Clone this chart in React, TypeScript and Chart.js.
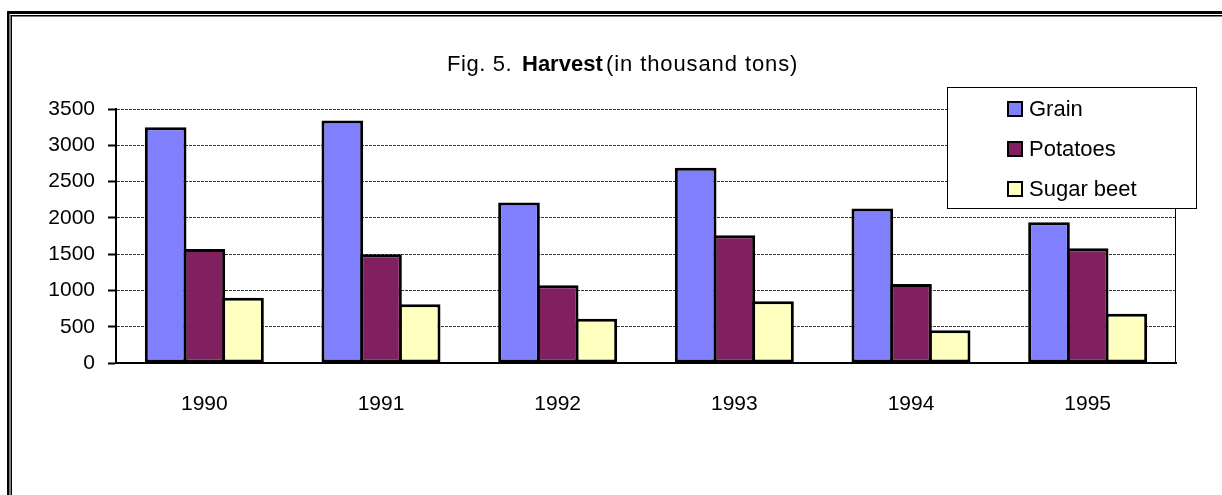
import React, { useEffect, useRef } from "react";
import { Chart, registerables } from "chart.js";

Chart.register(...registerables);

// ---- data ----
const categories = ["1990", "1991", "1992", "1993", "1994", "1995"];
const grain = [3250, 3340, 2210, 2690, 2130, 1940];
const potatoes = [1570, 1500, 1070, 1760, 1090, 1580];
const sugarBeet = [900, 810, 610, 850, 450, 680];
const seriesLabels = ["Grain", "Potatoes", "Sugar beet"];
const seriesColors = ["#8080FF", "#802060", "#FFFFC0"];
const yTickMin = 0;
const yTickMax = 3500;
const yTickStep = 500;
const titlePrefix = "Fig. 5.";
const titleBold = "Harvest";
const titleSuffix = "(in thousand tons)";

const FONT = "'Liberation Sans', Arial, sans-serif";
const W = 1222;
const H = 495;
const BAR_BORDER = 3;

const framePlugin = {
  id: "frame",
  beforeDraw(chart: any) {
    const ctx = chart.ctx;
    ctx.save();
    ctx.fillStyle = "#fff";
    ctx.fillRect(0, 0, W, H);
    ctx.fillStyle = "#000";
    // outer line
    ctx.fillRect(7, 11, W, 3);
    ctx.fillRect(7, 11, 2.5, H);
    // inner line
    ctx.fillRect(10.5, 15, W, 1.5);
    ctx.fillRect(10.5, 15, 1.5, H);
    ctx.restore();
  },
};

const plotBorderPlugin = {
  id: "plotBorder",
  afterDatasetsDraw(chart: any) {
    const { ctx, chartArea } = chart;
    ctx.save();
    ctx.strokeStyle = "#000";
    ctx.lineWidth = 1;
    ctx.beginPath();
    const x = Math.round(chartArea.right) - 0.5;
    ctx.moveTo(x, chartArea.top);
    ctx.lineTo(x, chartArea.bottom);
    ctx.stroke();
    ctx.restore();
  },
};

const titlePlugin = {
  id: "mixedTitle",
  afterDraw(chart: any) {
    const ctx = chart.ctx;
    ctx.save();
    ctx.fillStyle = "#000";
    ctx.textBaseline = "alphabetic";
    ctx.textAlign = "left";
    const y = 71;
    ctx.font = `22px ${FONT}`;
    (ctx as any).letterSpacing = "0.6px";
    ctx.fillText(titlePrefix, 447, y);
    ctx.font = `bold 22px ${FONT}`;
    (ctx as any).letterSpacing = "0px";
    ctx.fillText(titleBold, 522, y);
    ctx.font = `22px ${FONT}`;
    (ctx as any).letterSpacing = "0.9px";
    ctx.fillText(titleSuffix, 606, y);
    (ctx as any).letterSpacing = "0px";
    ctx.restore();
  },
};

const legendPlugin = {
  id: "boxLegend",
  afterDraw(chart: any) {
    const ctx = chart.ctx;
    const bx = 947;
    const by = 87;
    const bw = 249;
    const bh = 121;
    ctx.save();
    ctx.fillStyle = "#fff";
    ctx.fillRect(bx, by, bw, bh);
    ctx.strokeStyle = "#000";
    ctx.lineWidth = 1;
    ctx.strokeRect(bx + 0.5, by + 0.5, bw, bh);
    ctx.font = `22px ${FONT}`;
    ctx.textBaseline = "alphabetic";
    ctx.textAlign = "left";
    chart.data.datasets.forEach((ds: any, i: number) => {
      const baseY = 116 + i * 40;
      const sx = 1008;
      const sy = baseY - 14;
      ctx.fillStyle = ds.backgroundColor;
      ctx.fillRect(sx, sy, 14, 14);
      ctx.strokeStyle = "#000";
      ctx.lineWidth = 2;
      ctx.strokeRect(sx, sy, 14, 14);
      ctx.fillStyle = "#000";
      ctx.fillText(ds.label, 1029, baseY);
    });
    ctx.restore();
  },
};

export default function App() {
  const canvasRef = useRef<HTMLCanvasElement | null>(null);

  useEffect(() => {
    document.body.style.margin = "0";
    const canvas = canvasRef.current;
    if (!canvas) return;
    const values = [grain, potatoes, sugarBeet];
    const chart = new Chart(canvas, {
      type: "bar",
      data: {
        labels: categories,
        datasets: values.map((v, i) => ({
          label: seriesLabels[i],
          data: v,
          backgroundColor: seriesColors[i],
          borderColor: "#000",
          borderWidth: BAR_BORDER,
          borderSkipped: false,
          categoryPercentage: 0.6566,
          barPercentage: 1.0776,
        })),
      },
      options: {
        animation: false,
        responsive: false,
        devicePixelRatio: 1,
        layout: { padding: { left: 0, top: 109, right: 46, bottom: 0 } },
        plugins: {
          legend: { display: false },
          title: { display: false },
          tooltip: { enabled: false },
        },
        scales: {
          x: {
            grid: { display: false },
            border: { display: true, color: "#000", width: 2 },
            ticks: {
              color: "#000",
              font: { family: FONT, size: 21 },
              padding: 21,
              maxRotation: 0,
            },
            afterFit(scale: any) {
              scale.height = H - 363;
            },
          },
          y: {
            min: yTickMin,
            max: yTickMax,
            ticks: {
              stepSize: yTickStep,
              color: "#000",
              font: { family: FONT, size: 21 },
              padding: 13,
              callback: (v: any) => String(v),
            },
            grid: {
              color: "#3a3a3a",
              lineWidth: 1,
              drawTicks: true,
              tickLength: 8,
              tickColor: "#000",
              tickWidth: 2,
              tickBorderDash: [],
            },
            border: { display: true, color: "#000", width: 2, dash: [3, 1] },
            afterFit(scale: any) {
              scale.width = 116;
            },
          },
        },
      },
      plugins: [framePlugin, plotBorderPlugin, titlePlugin, legendPlugin],
    });
    return () => chart.destroy();
  }, []);

  return (
    <div style={{ width: W, height: H, position: "relative", overflow: "hidden" }}>
      <canvas ref={canvasRef} width={W} height={H} style={{ display: "block" }} />
    </div>
  );
}
